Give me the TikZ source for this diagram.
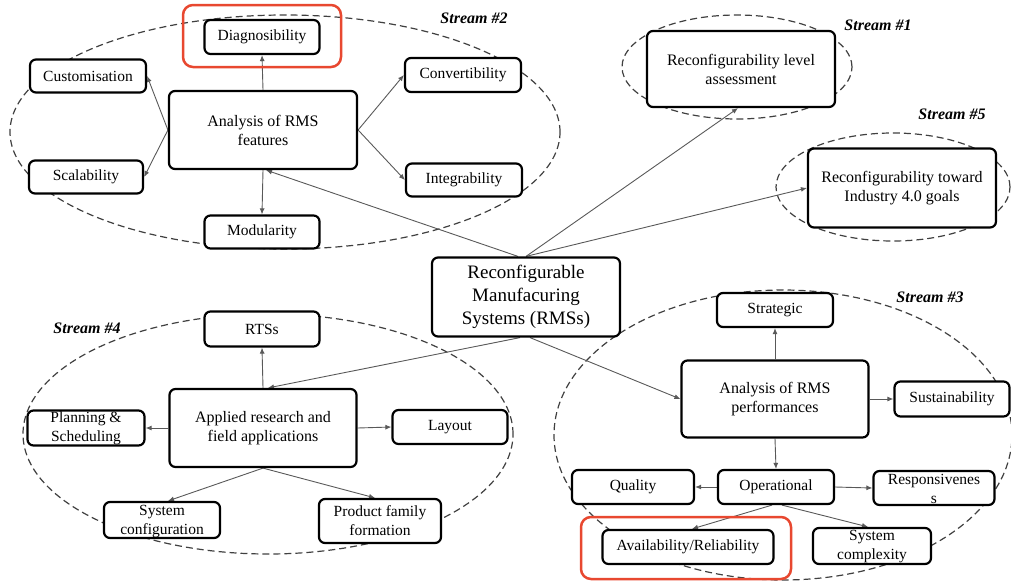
\documentclass[tikz,border=0pt]{standalone}
\usepackage{fontspec}
\setmainfont{Liberation Serif}
\usetikzlibrary{arrows.meta}
\pgfdeclarelayer{bg}
\pgfsetlayers{bg,main}
\definecolor{hlred}{RGB}{232,72,48}
\begin{document}
\begin{tikzpicture}[x=1pt,y=-1pt,
 box/.style={draw=black, fill=white, line width=2.2pt, rounded corners=6pt, inner sep=0pt, align=center, font=\fontsize{15.5}{19}\selectfont},
 bigbox/.style={box, font=\fontsize{16}{19}\selectfont},
 txt/.style={inner sep=0pt, align=center, font=\fontsize{15.5}{19}\selectfont},
 conn/.style={draw=black!65, line width=0.9pt, -{Latex[length=6pt,width=5pt]}},
 stream/.style={draw=black!75, line width=1.2pt, dash pattern=on 7pt off 4pt},
 slabel/.style={font=\fontsize{16}{19}\selectfont\bfseries\itshape, inner sep=0pt},
 hl/.style={draw=hlred, line width=2.5pt, rounded corners=10pt}
]
\useasboundingbox (0,0) rectangle (1011,581);

% centre
\node[box, font=\fontsize{19}{23}\selectfont, minimum width=188pt, minimum height=79pt] (rms) at (526,297) {Reconfigurable\\Manufacuring\\Systems (RMSs)};

% Stream 2
\node[bigbox, minimum width=188pt, minimum height=78pt] (feat) at (263,130) {Analysis of RMS\\features};
\node[box, minimum width=115pt, minimum height=34pt] (diag) at (262,37) {Diagnosibility};
\node[box, minimum width=116pt, minimum height=33pt] (cust) at (88,76) {Customisation};
\node[box, minimum width=116pt, minimum height=34pt] (conv) at (463,75) {Convertibility};
\node[box, minimum width=114pt, minimum height=33pt] (scal) at (86,177) {Scalability};
\node[box, minimum width=116pt, minimum height=33pt] (integ) at (464,180) {Integrability};
\node[box, minimum width=115pt, minimum height=33pt] (modu) at (262,232) {Modularity};
\node[slabel] (s2) at (474,18) {Stream \#2};

% Stream 1
\node[bigbox, minimum width=188pt, minimum height=76pt] (rla) at (741,69) {Reconfigurability level\\assessment};
\node[slabel] (s1) at (878,25) {Stream \#1};

% Stream 5
\node[bigbox, minimum width=188pt, minimum height=79pt] (ind) at (902,188) {Reconfigurability toward\\Industry 4.0 goals};
\node[slabel] (s5) at (952,114) {Stream \#5};

% Stream 4
\node[bigbox, minimum width=187pt, minimum height=78pt] (app) at (263,428) {Applied research and\\field applications};
\node[box, minimum width=115pt, minimum height=35pt] (rts) at (262,329) {RTSs};
\node[box, minimum width=117pt, minimum height=35pt] (plan) at (86,428) {};
\node[txt] (planT) at (86,428.5) {Planning \&\\Scheduling};
\node[box, minimum width=115pt, minimum height=34pt] (lay) at (450,427) {Layout};
\node[box, minimum width=116pt, minimum height=36pt] (syscfg) at (162,520) {};
\node[txt] (syscfgT) at (162,521.5) {System\\configuration};
\node[box, minimum width=122pt, minimum height=44pt] (pff) at (380,521) {Product family\\formation};
\node[slabel] (s4) at (87,328) {Stream \#4};

% Stream 3
\node[bigbox, minimum width=187pt, minimum height=77pt] (perf) at (775,399) {Analysis of RMS\\performances};
\node[box, minimum width=116pt, minimum height=34pt] (strat) at (775,310) {Strategic};
\node[box, minimum width=115pt, minimum height=35pt] (sust) at (952,399) {Sustainability};
\node[box, minimum width=116pt, minimum height=34pt] (oper) at (776,487) {Operational};
\node[box, minimum width=122pt, minimum height=34pt] (qual) at (633,487) {Quality};
\node[box, minimum width=121pt, minimum height=34pt] (resp) at (934,488) {};
\node[txt] (respT) at (934,488.5) {Responsivenes\\s};
\node[box, minimum width=171pt, minimum height=34pt] (avail) at (688,547) {Availability/Reliability};
\node[box, minimum width=118pt, minimum height=36pt] (syscx) at (872,546) {};
\node[txt] (syscxT) at (872,546.5) {System\\complexity};
\node[slabel] (s3) at (930,297) {Stream \#3};

% highlight frames
\draw[hl] (183,5) rectangle (341,67);
\draw[hl] (581,517) rectangle (791,579);

\begin{pgfonlayer}{bg}
% stream ellipses
\draw[stream] (285,132) ellipse [x radius=275pt, y radius=117pt];
\draw[stream] (737,67) ellipse [x radius=115pt, y radius=52pt];
\draw[stream] (893,187) ellipse [x radius=117pt, y radius=54pt];
\draw[stream] (268,434) ellipse [x radius=245pt, y radius=120pt];
\draw[stream] (783,435) ellipse [x radius=229pt, y radius=145pt];

% connectors from centre
\draw[conn] ([xshift=-8pt]rms.north) -- ([xshift=3pt]feat.south);
\draw[conn] (rms.north) -- ([xshift=-3pt]rla.south);
\draw[conn] (rms.north) -- (ind.west);
\draw[conn] ([xshift=-6pt]rms.south) -- ([xshift=5pt]app.north);
\draw[conn] ([xshift=4pt]rms.south) -- (perf.west);

% stream 2
\draw[conn] (feat.north) -- (diag.south);
\draw[conn] (feat.west) -- (cust.east);
\draw[conn] (feat.west) -- (scal.east);
\draw[conn] (feat.east) -- (conv.west);
\draw[conn] (feat.east) -- (integ.west);
\draw[conn] (feat.south) -- (modu.north);

% stream 4
\draw[conn] (app.north) -- (rts.south);
\draw[conn] (app.west) -- (plan.east);
\draw[conn] (app.east) -- (lay.west);
\draw[conn] (app.south) -- ([xshift=6pt]syscfg.north);
\draw[conn] (app.south) -- ([xshift=-5pt]pff.north);

% stream 3
\draw[conn] (perf.north) -- (strat.south);
\draw[conn] (perf.east) -- (sust.west);
\draw[conn] (perf.south) -- (oper.north);
\draw[conn] (oper.west) -- (qual.east);
\draw[conn] (oper.east) -- (resp.west);
\draw[conn] ([xshift=-4pt]oper.south) -- ([xshift=4pt]avail.north);
\draw[conn] ([xshift=6pt]oper.south) -- ([xshift=-4pt]syscx.north);
\end{pgfonlayer}
\end{tikzpicture}
\end{document}
